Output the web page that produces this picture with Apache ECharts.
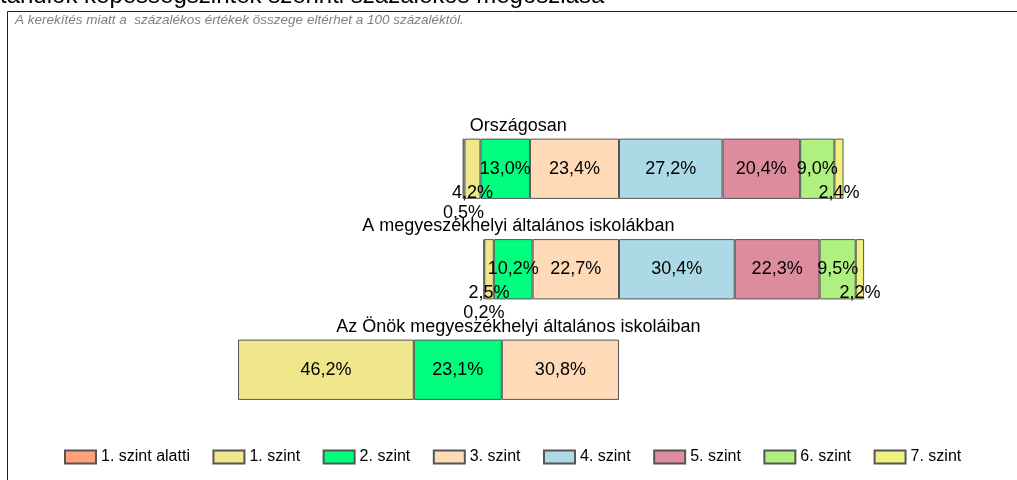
<!DOCTYPE html>
<html>
<head>
<meta charset="utf-8">
<script src="https://cdn.jsdelivr.net/npm/echarts@6/dist/echarts.min.js"></script>
<style>
  html, body { margin: 0; padding: 0; background: #fff; }
  #chart { width: 1017px; height: 480px; }
</style>
</head>
<body>
<div id="chart"></div>
<script>
// kategóriák (felülről lefelé)
const categories = [
  'Országosan',
  'A megyeszékhelyi általános iskolákban',
  'Az Önök megyeszékhelyi általános iskoláiban'
];

// szintek szerinti százalékok
const levelNames = ['1. szint alatti', '1. szint', '2. szint', '3. szint', '4. szint', '5. szint', '6. szint', '7. szint'];
const szintAlatti = [0.5, 0.2, null];
const szint1 = [4.2, 2.5, 46.2];
const szint2 = [13.0, 10.2, 23.1];
const szint3 = [23.4, 22.7, 30.8];
const szint4 = [27.2, 30.4, null];
const szint5 = [20.4, 22.3, null];
const szint6 = [9.0, 9.5, null];
const szint7 = [2.4, 2.2, null];

const levelValues = [szintAlatti, szint1, szint2, szint3, szint4, szint5, szint6, szint7];
const levelColors = ['#FFA07A', '#F0E68C', '#00FF7F', '#FFDAB9', '#ADD8E6', '#DC8C9C', '#B0F080', '#F0F080'];

const FONT = '"Liberation Sans", Arial, sans-serif';

// a 4. szint alatti szintek balra (negatív irány), a többi jobbra
function buildSeries(idx) {
  const negative = idx <= 3;
  const data = levelValues[idx].map(v => {
    if (v === null) return null;
    const item = { value: negative ? -v : v };
    if (v < 5) {
      // kis szeletek felirata a sáv alá kerül
      item.label = { offset: [0, idx === 0 ? 44 : 24] };
    }
    return item;
  });
  return {
    name: levelNames[idx],
    type: 'bar',
    stack: 'total',
    barWidth: '60%',
    data: data,
    itemStyle: {
      color: levelColors[idx],
      borderColor: '#555',
      borderWidth: 1
    },
    label: {
      show: true,
      position: 'inside',
      color: '#000',
      fontFamily: FONT,
      fontSize: 18,
      formatter: p => Math.abs(p.value).toFixed(1).replace('.', ',') + '%'
    },
    emphasis: { disabled: true }
  };
}

// sorrend: a nullához közelebbi negatív szelet legyen előbb
const seriesOrder = [3, 2, 1, 0, 4, 5, 6, 7];

const chart = echarts.init(document.getElementById('chart'));
chart.setOption({
  animation: false,
  title: [
    {
      text: 'tanulók képességszintek szerinti százalékos megoszlása',
      left: 0,
      top: -16,
      padding: 0,
      textStyle: { fontFamily: FONT, fontSize: 24, fontWeight: 'normal', color: '#000' }
    },
    {
      text: 'A kerekítés miatt a  százalékos értékek összege eltérhet a 100 százaléktól.',
      left: 15,
      top: 13,
      padding: 0,
      textStyle: { fontFamily: FONT, fontSize: 13.5, fontStyle: 'italic', fontWeight: 'normal', color: '#808080' }
    }
  ],
  graphic: [
    {
      type: 'rect',
      shape: { x: 7.5, y: 11.5, width: 1030, height: 500 },
      style: { fill: '#fff', stroke: '#222', lineWidth: 1 },
      silent: true,
      z: -1
    }
  ],
  legend: {
    data: levelNames,
    left: 64,
    top: 449,
    padding: 0,
    itemWidth: 31,
    itemHeight: 13,
    itemGap: 22.5,
    icon: 'rect',
    textStyle: { fontFamily: FONT, fontSize: 16, color: '#000' }
  },
  grid: {
    left: 200.34,
    right: 17.4,
    top: 118.5,
    height: 301.5
  },
  xAxis: {
    type: 'value',
    min: -110,
    max: 100,
    show: false
  },
  yAxis: {
    type: 'category',
    inverse: true,
    data: categories,
    axisLine: { show: false },
    axisTick: { show: false },
    splitLine: { show: false },
    axisLabel: {
      interval: 0,
      inside: true,
      margin: 318,
      align: 'center',
      verticalAlign: 'middle',
      // a felirat a sáv fölé kerül: alatta egy üres sor
      formatter: v => '{t|' + v + '}\n{g|}',
      rich: {
        t: { fontFamily: FONT, fontSize: 18, color: '#000', lineHeight: 22, align: 'center' },
        g: { height: 86, lineHeight: 86 }
      }
    }
  },
  series: seriesOrder.map(buildSeries)
});
</script>
</body>
</html>
